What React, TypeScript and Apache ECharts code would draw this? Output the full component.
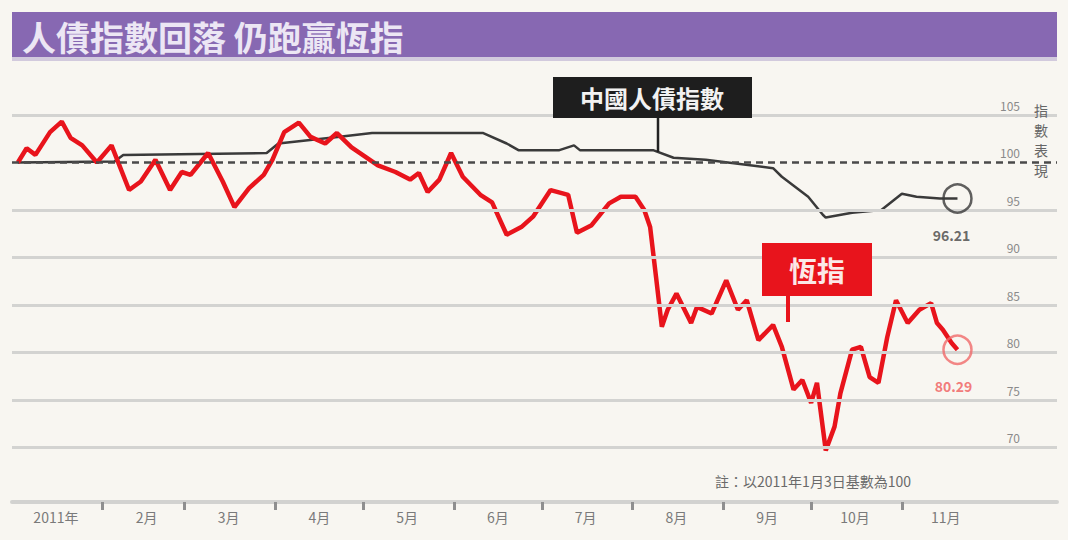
import React, { useEffect, useRef } from "react";
import * as echarts from "echarts";

const titleText = "人債指數回落 仍跑贏恆指";
const bondLabel = "中國人債指數";
const hsiLabel = "恆指";
const noteText = "註：以2011年1月3日基數為100";
const sideText = "指\n數\n表\n現";
const monthLabels = ["2011年", "2月", "3月", "4月", "5月", "6月", "7月", "8月", "9月", "10月", "11月"];
const gridValues = [70, 75, 80, 85, 90, 95, 105];
const baseValue = 100;

const hsiDates = [
  "01-03", "01-06", "01-09", "01-14", "01-18", "01-21", "01-25", "01-30",
  "02-04", "02-10", "02-14", "02-19", "02-24", "02-28",
  "03-03", "03-09", "03-14", "03-18", "03-23", "03-28", "03-31",
  "04-04", "04-09", "04-13", "04-18", "04-22", "04-27",
  "05-06", "05-12", "05-17", "05-20", "05-23", "05-27", "05-31",
  "06-04", "06-10", "06-14", "06-19", "06-24", "06-28",
  "07-04", "07-10", "07-13", "07-18", "07-24", "07-28",
  "08-02", "08-05", "08-07", "08-09", "08-11", "08-13", "08-16", "08-21", "08-23", "08-28",
  "09-02", "09-06", "09-09", "09-13", "09-18", "09-21", "09-25", "09-28",
  "10-01", "10-03", "10-06", "10-09", "10-11", "10-15", "10-18", "10-21", "10-24", "10-27", "10-30",
  "11-03", "11-07", "11-11", "11-13", "11-15", "11-18", "11-20",
];
const hsiValues = [
  100, 101.5, 100.8, 103.2, 104.3, 102.6, 101.8, 100,
  101.8, 97.1, 98, 100.3, 97.1, 99,
  98.7, 101, 98, 95.3, 97.3, 98.7, 100.3,
  103.2, 104.2, 102.7, 102, 103.1, 101.6,
  99.7, 99, 98.2, 98.9, 96.9, 98.2, 101,
  98.5, 96.6, 95.8, 92.4, 93.2, 94.3,
  97.1, 96.6, 92.6, 93.4, 95.7, 96.4,
  96.4, 95, 93.2, 88, 82.7, 84.5, 86.2, 83.1, 84.8, 84.1,
  87.6, 84.5, 85.5, 81.3, 82.9, 80.6, 76.1, 77.1,
  74.7, 76.8, 69.7, 72.2, 75.7, 80.3, 80.6, 77.4, 76.8, 81.6, 85.5,
  83.1, 84.5, 85.2, 83.1, 82.4, 81, 80.29,
];

const bondDates = [
  "01-03", "02-05", "02-08", "03-29", "04-02", "04-23", "05-04", "06-11",
  "06-19", "06-23", "07-07", "07-12", "07-14", "08-08", "08-15", "08-26",
  "09-18", "09-21", "09-30", "10-05", "10-06", "10-15", "10-25", "11-01",
  "11-06", "11-14", "11-20",
];
const bondValues = [
  100, 100.1, 100.8, 101, 102, 102.7, 103.1, 103.1,
  102, 101.3, 101.3, 101.8, 101.3, 101.3, 100.5, 100.3,
  99.4, 98.5, 96.4, 94.5, 94.2, 94.7, 95, 96.7,
  96.4, 96.2, 96.21,
];

function buildDays(): string[] {
  const out: string[] = [];
  const start = Date.UTC(2011, 0, 1);
  for (let i = 0; i <= 357; i++) {
    const d = new Date(start + i * 86400000);
    const m = String(d.getUTCMonth() + 1).padStart(2, "0");
    const dd = String(d.getUTCDate()).padStart(2, "0");
    out.push(`2011-${m}-${dd}`);
  }
  return out;
}

const FONT = "'Noto Sans CJK TC', 'Noto Sans CJK SC', sans-serif";

export default function App() {
  const ref = useRef<HTMLDivElement>(null);
  useEffect(() => {
    if (!ref.current) return;
    const chart = echarts.init(ref.current, undefined, { renderer: "svg" });
    const days = buildDays();
    const hsiData = hsiDates.map((d, i) => ["2011-" + d, hsiValues[i]]);
    const bondData = bondDates.map((d, i) => ["2011-" + d, bondValues[i]]);
    const hsiLast = hsiData[hsiData.length - 1];
    const bondLast = bondData[bondData.length - 1];
    const monthOf = (v: string) => parseInt(v.slice(5, 7), 10);

    chart.setOption({
      animation: false,
      backgroundColor: "#f8f6f1",
      textStyle: { fontFamily: FONT },
      grid: { left: 12, right: 11, top: 67.5, bottom: 45 },
      xAxis: {
        type: "category",
        data: days,
        boundaryGap: false,
        offset: 7,
        axisLine: { lineStyle: { color: "#d2d2d0", width: 4 } },
        axisTick: {
          length: 8,
          lineStyle: { color: "#8f8f8f", width: 3 },
          interval: (i: number, v: string) => v.slice(8) === "01" && monthOf(v) > 1 && monthOf(v) <= 11,
        },
        axisLabel: {
          interval: (i: number, v: string) => v.slice(8) === "16" && monthOf(v) <= 11,
          formatter: (v: string) => monthLabels[monthOf(v) - 1] || "",
          color: "#7a7a7a",
          fontSize: 14,
          margin: 8,
          fontFamily: FONT,
        },
        splitLine: { show: false },
      },
      yAxis: {
        type: "value",
        position: "right",
        min: 65,
        max: 110,
        interval: 5,
        axisLine: { show: false },
        axisTick: { show: false },
        splitLine: { show: false },
        axisLabel: {
          inside: true,
          margin: 37,
          verticalAlign: "bottom",
          padding: [0, 0, 4, 0],
          color: "#8a8a8a",
          fontSize: 12,
          fontFamily: FONT,
          formatter: (v: number) => (v >= 70 && v <= 105 ? String(v) : ""),
        },
      },
      series: [
        {
          type: "line",
          name: bondLabel,
          data: bondData,
          symbol: "none",
          z: 3,
          lineStyle: { color: "#3a3a3a", width: 2.5 },
          markLine: {
            silent: true,
            symbol: "none",
            label: { show: false },
            data: [
              ...gridValues.map((v) => ({ yAxis: v, lineStyle: { color: "#d3d3d1", width: 3, type: "solid" } })),
              { yAxis: baseValue, lineStyle: { color: "#4a4a4a", width: 2.5, type: [7, 5] } },
            ],
          },
        },
        {
          type: "line",
          name: hsiLabel,
          data: hsiData,
          symbol: "none",
          z: 4,
          lineStyle: { color: "#e8141c", width: 4.5 },
        },
        {
          type: "scatter",
          data: [bondLast],
          symbol: "circle",
          symbolSize: 28,
          z: 5,
          itemStyle: { color: "rgba(0,0,0,0)", borderColor: "#3a3a3a", borderWidth: 2.5 },
          label: {
            show: true,
            position: "bottom",
            distance: 14,
            offset: [-6, 0],
            formatter: () => (bondLast[1] as number).toFixed(2),
            color: "#444",
            fontSize: 14,
            fontWeight: "bold",
            fontFamily: FONT,
          },
        },
        {
          type: "scatter",
          data: [hsiLast],
          symbol: "circle",
          symbolSize: 28,
          z: 5,
          itemStyle: { color: "rgba(0,0,0,0)", borderColor: "#f06a6a", borderWidth: 2.5 },
          label: {
            show: true,
            position: "bottom",
            distance: 14,
            offset: [-4, 0],
            formatter: () => (hsiLast[1] as number).toFixed(2),
            color: "#f05a5a",
            fontSize: 14,
            fontWeight: "bold",
            fontFamily: FONT,
          },
        },
      ],
      graphic: [
        { type: "rect", shape: { x: 12, y: 12, width: 1045, height: 45 }, style: { fill: "#8768b2" }, z: 10 },
        { type: "rect", shape: { x: 12, y: 57, width: 1045, height: 4 }, style: { fill: "#d2cadd" }, z: 10 },
        {
          type: "text",
          x: 22,
          y: 36,
          z: 11,
          style: {
            text: titleText,
            fill: "#ece6f4",
            font: `bold 34px ${FONT}`,
            verticalAlign: "middle",
          },
        },
        { type: "line", shape: { x1: 658, y1: 117, x2: 658, y2: 152 }, style: { stroke: "#222", lineWidth: 2.5 }, z: 10 },
        { type: "rect", shape: { x: 553, y: 77, width: 199, height: 41 }, style: { fill: "#1e1e1e" }, z: 10 },
        {
          type: "text",
          x: 652,
          y: 97,
          z: 11,
          style: { text: bondLabel, fill: "#f2f2f2", font: `bold 24px ${FONT}`, align: "center", verticalAlign: "middle" },
        },
        { type: "line", shape: { x1: 788, y1: 295, x2: 788, y2: 322 }, style: { stroke: "#e8141c", lineWidth: 4 }, z: 10 },
        { type: "rect", shape: { x: 762, y: 243, width: 110, height: 53 }, style: { fill: "#e8141c" }, z: 10 },
        {
          type: "text",
          x: 817,
          y: 270,
          z: 11,
          style: { text: hsiLabel, fill: "#fbe8e8", font: `bold 28px ${FONT}`, align: "center", verticalAlign: "middle" },
        },
        {
          type: "text",
          x: 813,
          y: 481,
          z: 11,
          style: { text: noteText, fill: "#6a6a6a", font: `14px ${FONT}`, align: "center", verticalAlign: "middle" },
        },
        {
          type: "text",
          x: 1041,
          y: 100,
          z: 11,
          style: { text: sideText, fill: "#666", font: `14px ${FONT}`, align: "center", verticalAlign: "top", lineHeight: 20 },
        },
      ],
    });
    return () => chart.dispose();
  }, []);
  return (
    <div
      ref={ref}
      style={{ position: "fixed", left: 0, top: 0, width: 1068, height: 540, background: "#f8f6f1" }}
    />
  );
}
